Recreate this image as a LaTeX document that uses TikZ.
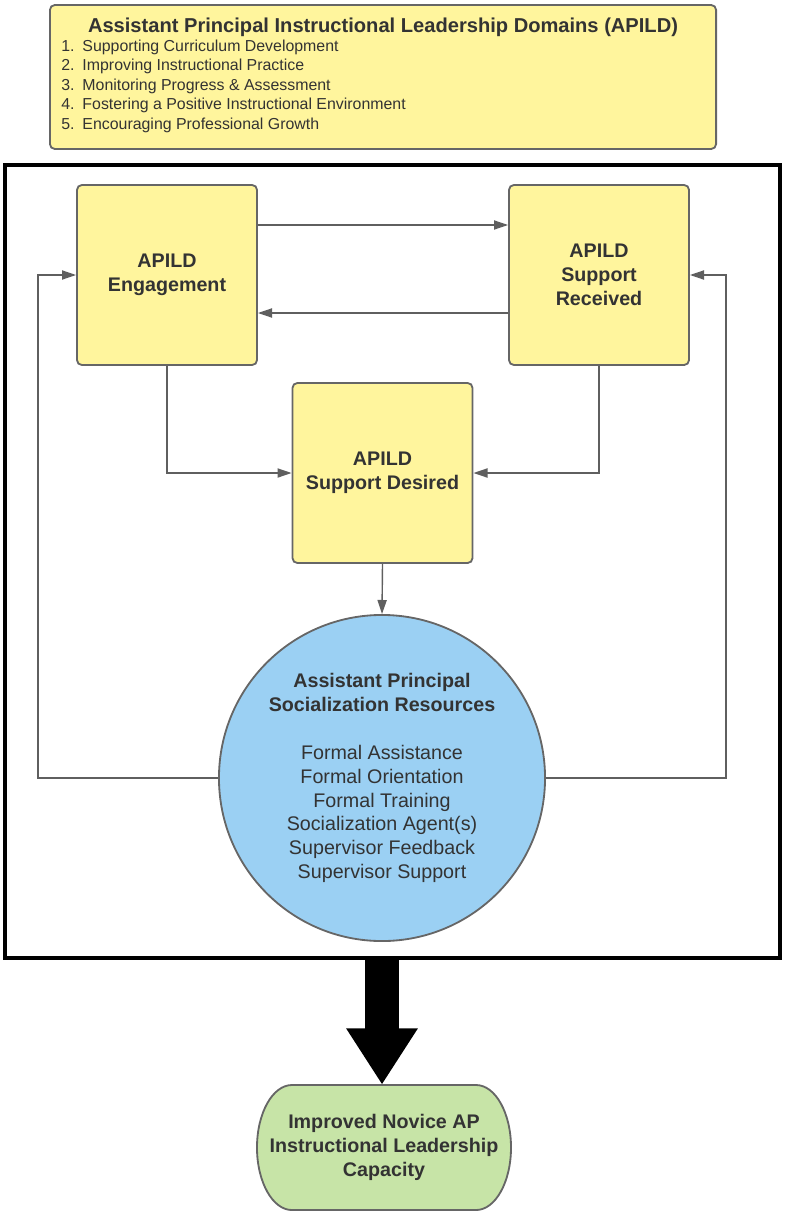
\documentclass[tikz,border=0pt]{standalone}
\usepackage{fontspec}
\setmainfont{Liberation Sans}
\usetikzlibrary{arrows.meta}
\definecolor{boxyellow}{RGB}{255,245,157}
\definecolor{resblue}{RGB}{155,208,243}
\definecolor{capgreen}{RGB}{199,228,167}
\definecolor{edgegray}{RGB}{102,102,102}
\definecolor{linkgray}{RGB}{95,95,95}
\definecolor{txtgray}{RGB}{51,51,51}

\begin{document}
\begin{tikzpicture}[x=0.025cm,y=-0.025cm,
	every node/.style={text=txtgray},
	apbox/.style={draw=edgegray, line width=1.3pt, fill=boxyellow, rounded corners=3.5pt,
		minimum width=4.5cm, minimum height=4.5cm, align=center,
		font=\bfseries\fontsize{14}{17}\selectfont},
	link/.style={draw=linkgray, line width=1pt, -{Triangle[length=10pt,width=6.5pt]}}]
		\useasboundingbox (0,0) rectangle (785,1216);

		% domains list
		\node[draw=edgegray, line width=1.3pt, fill=boxyellow, rounded corners=3.5pt,
			minimum width=16.65cm, minimum height=3.6cm] (apild) at (383,77) {};
		\node[font=\bfseries\fontsize{14.3}{17}\selectfont] (title) at (383,27)
			{Assistant Principal Instructional Leadership Domains (APILD)};
		\node[anchor=west, inner sep=0pt, align=left, font=\fontsize{11.3}{13.9}\selectfont] (list) at (61,86)
			{1.\enspace Supporting Curriculum Development\\
			 2.\enspace Improving Instructional Practice\\
			 3.\enspace Monitoring Progress \& Assessment\\
			 4.\enspace Fostering a Positive Instructional Environment\\
			 5.\enspace Encouraging Professional Growth};

		% frame
		\node[draw, line width=3pt, minimum width=19.375cm, minimum height=19.825cm, inner sep=0pt] (frame) at (392.5,561.5) {};

		\node[apbox] (eng) at (167,275) {APILD\\Engagement};
		\node[apbox] (rec) at (599,275) {APILD\\Support\\Received};
		\node[apbox] (des) at (382.5,473) {APILD\\Support Desired};

		\node[circle, draw=edgegray, line width=1.3pt, fill=resblue, minimum size=8.15cm, inner sep=0pt,
			align=center, font=\fontsize{14}{17}\selectfont] (soc) at (382,778)
			{\textbf{Assistant Principal}\\\textbf{Socialization Resources}\\[17pt]
			 Formal Assistance\\Formal Orientation\\Formal Training\\
			 Socialization Agent(s)\\Supervisor Feedback\\Supervisor Support};

		\draw[link] (eng.east |- 0,225) -- (rec.west |- 0,225);
		\draw[link] (rec.west |- 0,313) -- (eng.east |- 0,313);
		\draw[link] (eng.south) |- (des.west);
		\draw[link] (rec.south) |- (des.east);
		\draw[link] (des.south) -- (soc.north);
		\draw[link] (soc.west) -- ++(-180,0) |- (eng.west);
		\draw[link] (soc.east) -- ++(180,0) |- (rec.east);

		% outcome
		\coordinate (goalpos) at (384,1147.5);
		\draw[draw=edgegray, line width=1.3pt, fill=capgreen] (goalpos) ++(-92,-62.5)
			arc[start angle=90, end angle=270, x radius=0.875cm, y radius=1.5625cm] -- ++(184,0)
			arc[start angle=-90, end angle=90, x radius=0.875cm, y radius=1.5625cm] -- cycle;
		\node[minimum width=6.35cm, minimum height=3.125cm, align=center,
			font=\bfseries\fontsize{14}{17}\selectfont] (goal) at (goalpos)
			{Improved Novice AP\\Instructional Leadership\\Capacity};

		\draw[line width=24pt, -{Triangle[length=40pt,width=48pt]}] (soc.south |- frame.south) -- (soc.south |- goal.north);
	\end{tikzpicture}
\end{document}
